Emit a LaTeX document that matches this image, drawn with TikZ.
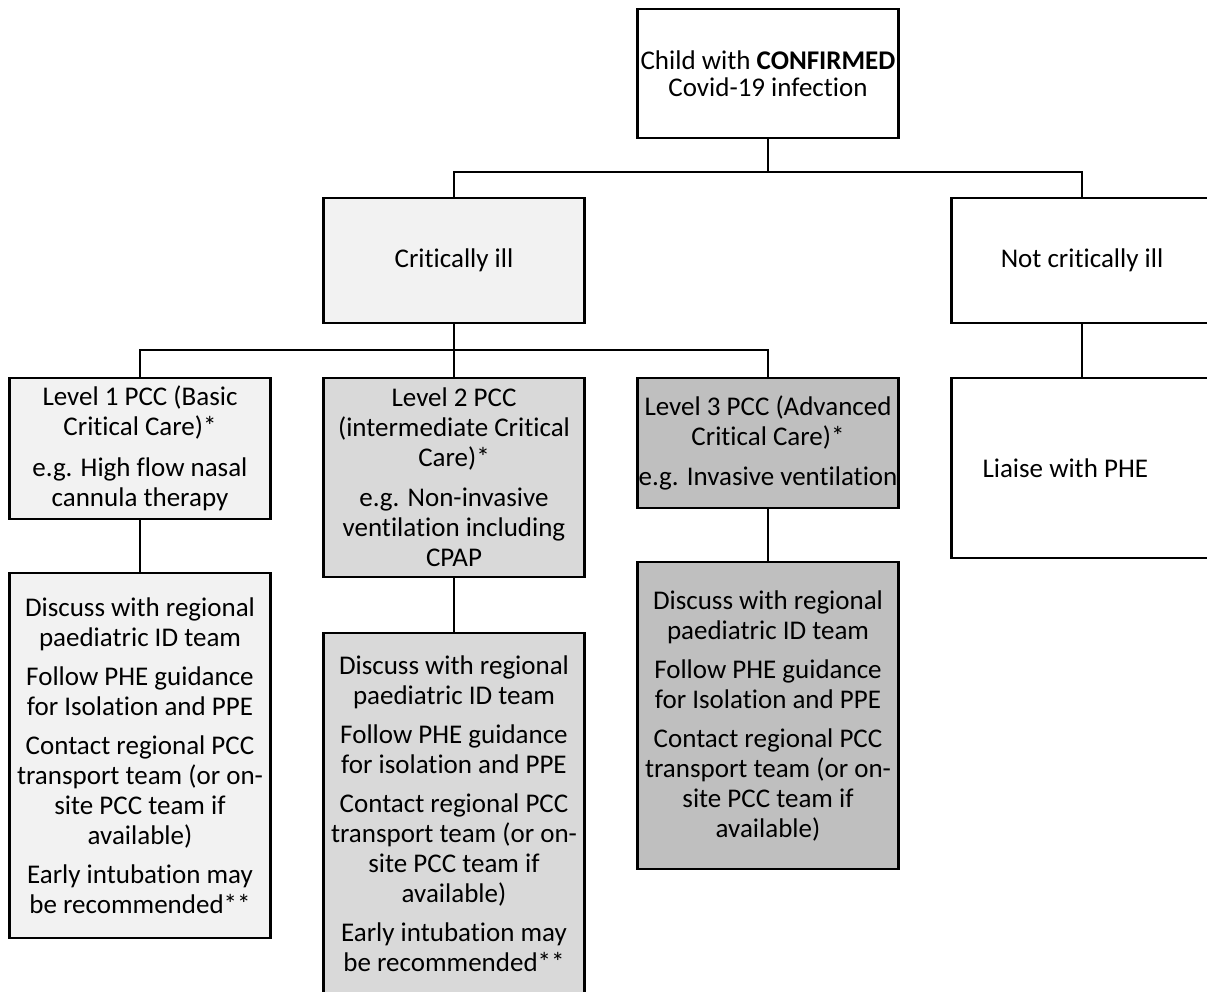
\documentclass[tikz,border=0pt]{standalone}
\usepackage{fontspec}
\setmainfont{Carlito}[RawFeature=-liga, RawFeature=-rlig, RawFeature=-clig, RawFeature=-dlig, RawFeature=-calt]
\usetikzlibrary{positioning}

\definecolor{shadeone}{HTML}{F2F2F2}
\definecolor{shadetwo}{HTML}{D9D9D9}
\definecolor{shadethree}{HTML}{BFBFBF}

\begin{document}
\begin{tikzpicture}[
  x=1pt, y=-1pt,
  box/.style={rectangle, draw, line width=2.4pt, fill=white,
              minimum width=261pt, inner sep=0pt, outer sep=0pt,
              align=center, font=\fontsize{27}{30}\selectfont},
  lvlone/.style={box, fill=shadeone},
  lvltwo/.style={box, fill=shadetwo},
  lvlthree/.style={box, fill=shadethree},
  link/.style={line width=2.2pt}
]
  \fill[white] (0,0) rectangle (1207,992);
  \useasboundingbox (0,0) rectangle (1207,992);
  \clip (0,0) rectangle (1207,992);

  % top of the tree
  \node[box, anchor=north, minimum height=129pt, font=\fontsize{27}{27}\selectfont]
        (confirmed) at (768,9) {Child with \textbf{CONFIRMED}\\Covid-19 infection};

  \node[lvlone, anchor=north, minimum height=125pt] (crit)    at (454,198)  {Critically ill};
  \node[box,    anchor=north, minimum height=125pt] (notcrit) at (1082,198) {Not critically ill};

  % levels of care
  \node[lvlone, anchor=north, minimum height=141pt] (lvl1) at (140,378)
        {Level 1 PCC (Basic\\Critical Care)*\\[11pt]e.g. High flow nasal\\cannula therapy};
  \node[lvltwo, anchor=north, minimum height=199pt] (lvl2) at (454,378)
        {Level 2 PCC\\(intermediate Critical\\Care)*\\[10pt]e.g. Non-invasive\\ventilation including\\CPAP};
  \node[lvlthree, anchor=north, minimum height=130pt] (lvl3) at (768,378)
        {Level 3 PCC (Advanced\\Critical Care)*\\[10pt]e.g. Invasive ventilation};
  \node[box, anchor=north, minimum height=180pt, text width=199pt, align=flush left] (liaise) at (1082,378)
        {Liaise with PHE};

  % actions
  \node[lvlone, minimum height=365pt, below=54pt of lvl1] (care1)
        {Discuss with regional\\paediatric ID team\\[9pt]Follow PHE guidance\\for Isolation and PPE\\[9pt]Contact regional PCC\\transport team (or on-\\site PCC team if\\available)\\[9pt]Early intubation may\\be recommended**};
  \node[lvltwo, minimum height=362pt, below=56pt of lvl2] (care2)
        {Discuss with regional\\paediatric ID team\\[9pt]Follow PHE guidance\\for isolation and PPE\\[9pt]Contact regional PCC\\transport team (or on-\\site PCC team if\\available)\\[9pt]Early intubation may\\be recommended**};
  \node[lvlthree, minimum height=307pt, below=54pt of lvl3] (care3)
        {Discuss with regional\\paediatric ID team\\[9pt]Follow PHE guidance\\for Isolation and PPE\\[9pt]Contact regional PCC\\transport team (or on-\\site PCC team if\\available)};

  \coordinate[below=34pt of confirmed] (split1);
  \coordinate[below=27pt of crit] (split2);

  \draw[link] (confirmed.south) -- (split1);
  \draw[link] (crit.north) |- (split1) -| (notcrit.north);
  \draw[link] (crit.south) -- (split2);
  \draw[link] (lvl1.north) |- (split2) -| (lvl3.north);
  \draw[link] (split2) -- (lvl2.north);
  \draw[link] (notcrit.south) -- (liaise.north);
  \draw[link] (lvl1.south) -- (care1.north);
  \draw[link] (lvl2.south) -- (care2.north);
  \draw[link] (lvl3.south) -- (care3.north);
\end{tikzpicture}
\end{document}
